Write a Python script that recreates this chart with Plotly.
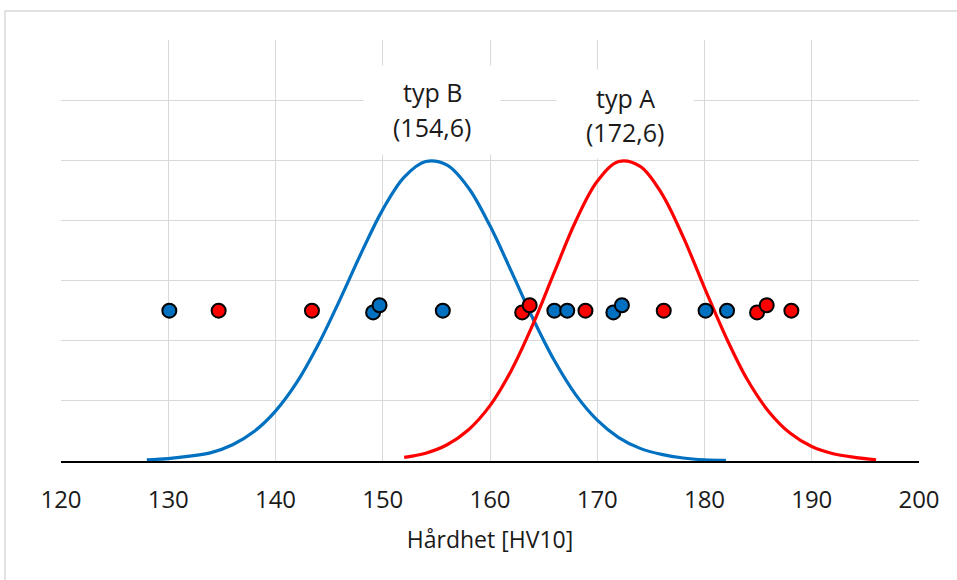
import plotly.graph_objects as go

# Normal-distribution curves (y in gridline units)
blue_curve_x = [128, 130, 132, 134, 136, 138, 140, 142, 144, 146, 148, 150, 152, 154,
                156, 158, 160, 162, 164, 166, 168, 170, 172, 174, 176, 178, 180, 182]
blue_curve_y = [0.02, 0.04, 0.08, 0.14, 0.27, 0.49, 0.83, 1.31, 1.94, 2.68, 3.46, 4.18, 4.72, 4.98,
                4.92, 4.54, 3.91, 3.15, 2.37, 1.67, 1.10, 0.68, 0.39, 0.21, 0.11, 0.05, 0.02, 0.01]

red_curve_x = [152, 154, 156, 158, 160, 162, 164, 166, 168, 170, 172, 174,
               176, 178, 180, 182, 184, 186, 188, 190, 192, 194, 196]
red_curve_y = [0.06, 0.13, 0.27, 0.52, 0.92, 1.51, 2.27, 3.14, 3.99, 4.65, 4.98, 4.90,
               4.45, 3.73, 2.88, 2.06, 1.35, 0.82, 0.46, 0.24, 0.12, 0.06, 0.02]

# Measured hardness values (dots)
blue_pts_x = [130.1, 149.1, 149.7, 155.6, 166.0, 167.2, 171.5, 172.3, 180.1, 182.1]
blue_pts_y = [2.50, 2.47, 2.59, 2.50, 2.50, 2.50, 2.47, 2.59, 2.50, 2.50]
red_pts_x = [134.7, 143.4, 163.0, 163.7, 168.9, 176.2, 184.9, 185.8, 188.1]
red_pts_y = [2.50, 2.50, 2.47, 2.59, 2.50, 2.50, 2.47, 2.59, 2.50]

# Curve labels (type name, mean value)
label_line1 = ["typ B", "typ A"]
label_line2 = ["(154,6)", "(172,6)"]
label_x = [154.6, 172.6]
label_y1 = [6.14, 6.04]
label_y2 = [5.56, 5.47]
label_box_y = [5.84, 5.77]

x_ticks = [120, 130, 140, 150, 160, 170, 180, 190, 200]

BLUE = "#0070C0"
RED = "#FF0000"
FONT = "Open Sans"
TXT = "#1a1a1a"

fig = go.Figure()
fig.add_trace(go.Scatter(x=blue_curve_x, y=blue_curve_y, mode="lines",
                         line=dict(color=BLUE, width=3.2, shape="spline"), showlegend=False))
fig.add_trace(go.Scatter(x=red_curve_x, y=red_curve_y, mode="lines",
                         line=dict(color=RED, width=3.2, shape="spline"), showlegend=False))
fig.add_trace(go.Scatter(x=blue_pts_x, y=blue_pts_y, mode="markers",
                         marker=dict(color=BLUE, size=14, line=dict(color="black", width=2)),
                         showlegend=False))
fig.add_trace(go.Scatter(x=red_pts_x, y=red_pts_y, mode="markers",
                         marker=dict(color=RED, size=14, line=dict(color="black", width=2)),
                         showlegend=False))

for l1, l2, lx, y1, y2, yb in zip(label_line1, label_line2, label_x, label_y1, label_y2, label_box_y):
    # white box hiding gridlines behind the label
    fig.add_annotation(x=lx, y=yb, xref="x", yref="y", text=" ", showarrow=False,
                       bgcolor="white", width=136, height=88, borderpad=0,
                       xanchor="center", yanchor="middle")
    fig.add_annotation(x=lx, y=y1, xref="x", yref="y", text=l1, showarrow=False,
                       font=dict(family=FONT, size=25, color=TXT),
                       xanchor="center", yanchor="middle")
    fig.add_annotation(x=lx, y=y2, xref="x", yref="y", text=l2, showarrow=False,
                       font=dict(family=FONT, size=25, color=TXT),
                       xanchor="center", yanchor="middle")

# outer chart-area border
fig.add_shape(type="rect", xref="paper", yref="paper",
              x0=-0.0653, x1=1.06, y0=-0.32, y1=1.069,
              line=dict(color="#d9d9d9", width=1.5), fillcolor="rgba(0,0,0,0)", layer="below")

fig.update_layout(
    width=957, height=580,
    margin=dict(l=61, r=38, t=40, b=119),
    paper_bgcolor="white", plot_bgcolor="white",
    font=dict(family=FONT, size=24, color=TXT),
)
fig.update_xaxes(range=[120, 200], tickvals=x_ticks, showgrid=True, gridcolor="#d9d9d9", gridwidth=1,
                 showline=True, linecolor="black", linewidth=2, zeroline=False,
                 ticks="outside", ticklen=16, tickcolor="rgba(0,0,0,0)",
                 tickfont=dict(family=FONT, size=24, color=TXT),
                 title=dict(text="Hårdhet [HV10]", standoff=18,
                            font=dict(family=FONT, size=23, color=TXT)))
fig.update_yaxes(range=[0, 7], dtick=1, showgrid=True, gridcolor="#d9d9d9", gridwidth=1,
                 showticklabels=False, zeroline=False, showline=False)

fig.write_html("out.html")
